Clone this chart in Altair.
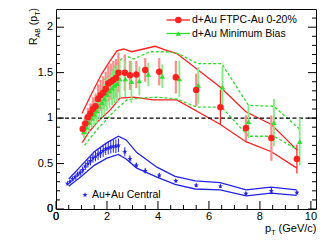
import altair as alt
import pandas as pd

# ---------------- data ----------------
# d+Au FTPC-Au 0-20%
red_pt = [1.05, 1.15, 1.25, 1.35, 1.45, 1.55, 1.65, 1.75, 1.85, 1.95, 2.05, 2.15, 2.25, 2.35, 2.45,
          2.7, 2.9, 3.15, 3.5, 4.05, 4.7, 5.5, 6.45, 7.45, 8.45, 9.45]
red_r = [0.88, 0.94, 1.01, 1.05, 1.10, 1.13, 1.21, 1.25, 1.28, 1.32, 1.38, 1.40, 1.42, 1.44, 1.50,
         1.50, 1.47, 1.48, 1.53, 1.51, 1.45, 1.31, 1.12, 0.89, 0.78, 0.55]
red_sys = [0.07, 0.08, 0.10, 0.11, 0.13, 0.14, 0.16, 0.17, 0.18, 0.19, 0.20, 0.20, 0.21, 0.21, 0.22,
           0.20, 0.16, 0.15, 0.13, 0.15, 0.18, 0.18, 0.0, 0.14, 0.25, 0.0]
red_stat = [0, 0, 0, 0, 0, 0, 0, 0, 0, 0, 0, 0, 0, 0, 0,
            0, 0, 0, 0, 0, 0, 0, 0.19, 0, 0, 0.16]
red_up_pt = [1.02, 1.4, 1.8, 2.1, 2.39, 2.65, 2.97, 3.43, 3.89, 4.28, 4.74, 6.45, 7.45, 8.45, 9.45]
red_up_r = [1.05, 1.27, 1.49, 1.62, 1.74, 1.76, 1.73, 1.76, 1.79, 1.75, 1.71, 1.34, 1.07, 0.93, 0.65]
red_lo_pt = [1.03, 1.3, 1.7, 2.13, 2.5, 3.04, 3.82, 4.74, 6.45, 7.45, 8.45, 9.45]
red_lo_r = [0.73, 0.85, 0.98, 1.09, 1.22, 1.23, 1.20, 1.20, 0.93, 0.74, 0.63, 0.45]

# d+Au Minimum Bias
green_pt = [1.10, 1.20, 1.30, 1.40, 1.50, 1.60, 1.70, 1.80, 1.90, 2.00, 2.10, 2.20, 2.30, 2.40, 2.50,
            2.72, 2.96, 3.27, 3.62, 4.17, 4.84, 5.58, 6.53, 7.55, 8.55, 9.56]
green_r = [0.85, 0.90, 0.95, 1.00, 1.04, 1.08, 1.13, 1.17, 1.21, 1.26, 1.30, 1.33, 1.36, 1.38, 1.43,
           1.43, 1.40, 1.41, 1.48, 1.46, 1.43, 1.36, 1.34, 0.96, 0.95, 0.74]
green_err = [0.07, 0.08, 0.10, 0.11, 0.12, 0.14, 0.15, 0.16, 0.17, 0.18, 0.19, 0.19, 0.20, 0.20, 0.21,
             0.20, 0.23, 0.16, 0.13, 0.13, 0.20, 0.20, 0.23, 0.18, 0.26, 0.26]
green_up_pt = [1.1, 1.5, 1.9, 2.45, 2.71, 3.04, 3.69, 4.3, 4.8, 5.55, 6.5, 7.55, 8.55, 9.55]
green_up_r = [0.98, 1.20, 1.42, 1.62, 1.69, 1.65, 1.73, 1.73, 1.71, 1.60, 1.60, 1.14, 1.13, 0.88]
green_lo_pt = [1.12, 1.6, 2.26, 2.78, 3.3, 3.96, 4.74, 5.52, 6.5, 7.55, 8.55, 9.5]
green_lo_r = [0.70, 0.87, 1.07, 1.20, 1.22, 1.23, 1.21, 1.12, 1.12, 0.80, 0.80, 0.65]

# Au+Au Central
blue_pt = [0.45, 0.55, 0.65, 0.75, 0.85, 0.95, 1.05, 1.15, 1.25, 1.35, 1.45, 1.55, 1.65, 1.75, 1.85,
           1.95, 2.05, 2.15, 2.25, 2.35, 2.45, 2.7, 2.9, 3.15, 3.5, 4.05, 4.7, 5.5, 6.45, 7.45, 8.45, 9.45]
blue_r = [0.28, 0.30, 0.33, 0.35, 0.38, 0.40, 0.43, 0.47, 0.50, 0.53, 0.56, 0.58, 0.60, 0.62, 0.64,
          0.66, 0.67, 0.68, 0.69, 0.69, 0.70, 0.63, 0.55, 0.48, 0.42, 0.37, 0.31, 0.26, 0.25, 0.17, 0.20, 0.18]
blue_err = [0.02, 0.02, 0.025, 0.03, 0.03, 0.035, 0.04, 0.04, 0.045, 0.05, 0.05, 0.055, 0.06, 0.06, 0.065,
            0.065, 0.07, 0.07, 0.07, 0.075, 0.075, 0.05, 0.04, 0.03, 0.03, 0.025, 0.02, 0.02, 0.02, 0.02, 0.03, 0.025]
blue_up_pt = [0.5, 1.0, 1.5, 2.0, 2.45, 2.75, 3.17, 3.96, 4.67, 5.46, 6.44, 7.46, 8.43, 9.44]
blue_up_r = [0.33, 0.48, 0.63, 0.73, 0.80, 0.76, 0.62, 0.46, 0.36, 0.31, 0.29, 0.21, 0.24, 0.21]
blue_lo_pt = [0.5, 1.0, 1.5, 2.0, 2.45, 2.75, 3.17, 3.96, 4.67, 5.46, 6.44, 7.46, 8.43, 9.44]
blue_lo_r = [0.25, 0.36, 0.48, 0.56, 0.60, 0.55, 0.45, 0.35, 0.27, 0.22, 0.21, 0.145, 0.175, 0.15]

ref_line = [1.0]
x_major = [0, 2, 4, 6, 8, 10]
x_labels = ["0", "2", "4", "6", "8", "10"]
x_minor = [0.5, 1, 1.5, 2.5, 3, 3.5, 4.5, 5, 5.5, 6.5, 7, 7.5, 8.5, 9, 9.5]
y_major = [0, 0.5, 1, 1.5, 2]
y_labels = ["0", "0.5", "1", "1.5", "2"]
y_minor = [0.1, 0.2, 0.3, 0.4, 0.6, 0.7, 0.8, 0.9, 1.1, 1.2, 1.3, 1.4, 1.6, 1.7, 1.8, 1.9, 2.1]

leg_red = "d+Au FTPC-Au 0-20%"
leg_green = "d+Au Minimum Bias"
leg_blue = "Au+Au Central"

# ---------------- style ----------------
W, H = 260, 200
FONT = "Liberation Sans"
RED, RED_LIGHT = "#ff2020", "#ff8c8c"
GREEN, GREEN_LIGHT = "#2ee02e", "#80ee80"
BLUE = "#2323e6"
STAR = ("M0,-1L0.235,-0.324L0.951,-0.309L0.38,0.124L0.588,0.809L0,0.4L-0.588,0.809"
        "L-0.38,0.124L-0.951,-0.309L-0.235,-0.324Z")

XS = alt.Scale(domain=[0, 10.2], nice=False, zero=False)
YS = alt.Scale(domain=[0, 2.2], nice=False, zero=False)


def X(f):
    return alt.X(f, type="quantitative", scale=XS, axis=None)


def Y(f):
    return alt.Y(f, type="quantitative", scale=YS, axis=None)


def curve(pt, r):
    return pd.DataFrame({"x": pt, "y": r})


def bars(pt, r, e):
    d = pd.DataFrame({"x": pt, "y": r, "e": e})
    d = d[d["e"] > 0].copy()
    d["lo"] = d["y"] - d["e"]
    d["hi"] = d["y"] + d["e"]
    return d


one = pd.DataFrame({"a": [0]})


def txt(s, x, y, size=10.5, angle=0, baseline="middle", align="left"):
    kw = dict(text=s, align=align, baseline=baseline, font=FONT, fontSize=size, color="black")
    if angle:
        kw["angle"] = angle
    return alt.Chart(one).mark_text(**kw).encode(x=alt.value(x), y=alt.value(y))


layers = []

# tick labels first (so nothing is stacked over them)
layers.append(alt.Chart(pd.DataFrame({"xv": x_major, "t": x_labels})).mark_text(
    align="center", baseline="middle", font=FONT, fontSize=11, color="black").encode(
    x=X("xv"), y=alt.value(H + 8), text="t:N"))
layers.append(alt.Chart(pd.DataFrame({"yv": y_major, "t": y_labels})).mark_text(
    align="right", baseline="middle", font=FONT, fontSize=11, color="black").encode(
    y=Y("yv"), x=alt.value(-3), text="t:N"))
# the two origin labels again as plain texts (the corner labels got lost before)
layers += [txt(x_labels[0], 0, H + 8, size=11, align="center"),
           txt(y_labels[0], -3, H, size=11, align="right")]

# bands
for pt, r, col, dash in [(blue_up_pt, blue_up_r, BLUE, None), (blue_lo_pt, blue_lo_r, BLUE, None),
                         (red_up_pt, red_up_r, RED, None), (red_lo_pt, red_lo_r, RED, None),
                         (green_up_pt, green_up_r, GREEN, [3, 2]), (green_lo_pt, green_lo_r, GREEN, [3, 2])]:
    kw = dict(color=col, strokeWidth=1.3)
    if dash:
        kw["strokeDash"] = dash
    layers.append(alt.Chart(curve(pt, r)).mark_line(**kw).encode(x=X("x"), y=Y("y")))

# reference line
layers.append(alt.Chart(pd.DataFrame({"y": ref_line})).mark_rule(
    color="black", strokeWidth=1.3, strokeDash=[4, 2.5]).encode(y=Y("y")))

# error bars
layers.append(alt.Chart(bars(blue_pt, blue_r, blue_err)).mark_rule(color=BLUE, strokeWidth=1).encode(
    x=X("x"), y=Y("lo"), y2="hi"))
layers.append(alt.Chart(bars(red_pt, red_r, red_sys)).mark_rule(color=RED_LIGHT, strokeWidth=2.2).encode(
    x=X("x"), y=Y("lo"), y2="hi"))
layers.append(alt.Chart(bars(red_pt, red_r, red_stat)).mark_rule(color=RED, strokeWidth=1.2).encode(
    x=X("x"), y=Y("lo"), y2="hi"))
layers.append(alt.Chart(bars(green_pt, green_r, green_err)).mark_rule(color=GREEN_LIGHT, strokeWidth=1.8).encode(
    x=X("x"), y=Y("lo"), y2="hi"))

# points
layers.append(alt.Chart(curve(blue_pt, blue_r)).mark_point(shape=STAR, filled=True, size=30, color=BLUE,
                                                             opacity=1).encode(x=X("x"), y=Y("y")))
layers.append(alt.Chart(curve(green_pt, green_r)).mark_point(shape="triangle-up", filled=True, size=30,
                                                               color=GREEN, opacity=1).encode(x=X("x"), y=Y("y")))
layers.append(alt.Chart(curve(red_pt, red_r)).mark_circle(size=42, color=RED, opacity=1).encode(
    x=X("x"), y=Y("y")))


# ticks (inside the frame)
def yticks(vals, ln):
    d = pd.DataFrame({"y": vals})
    left = alt.Chart(d).mark_rule(color="black", strokeWidth=1).encode(
        y=Y("y"), x=alt.value(0), x2=alt.value(ln))
    right = alt.Chart(d).mark_rule(color="black", strokeWidth=1).encode(
        y=Y("y"), x=alt.value(W), x2=alt.value(W - ln))
    return [left, right]


def xticks(vals, ln):
    d = pd.DataFrame({"x": vals})
    return [alt.Chart(d).mark_rule(color="black", strokeWidth=1).encode(
        x=X("x"), y=alt.value(H), y2=alt.value(H - ln))]


layers += yticks(y_major, 8) + yticks(y_minor, 4) + xticks(x_major, 8) + xticks(x_minor, 4)


def seg(x1, x2, y, col):
    return alt.Chart(one).mark_rule(color=col, strokeWidth=1.3).encode(
        x=alt.value(x1), x2=alt.value(x2), y=alt.value(y))


def sym(x, y, **kw):
    return alt.Chart(one).mark_point(filled=True, opacity=1, **kw).encode(x=alt.value(x), y=alt.value(y))


layers += [
    seg(110.5, 134, 11, RED), sym(122.3, 11, shape="circle", size=42, color=RED), txt(leg_red, 136, 11),
    seg(110.5, 134, 24.5, GREEN), sym(122.3, 24.5, shape="triangle-up", size=30, color=GREEN),
    txt(leg_green, 136, 24.5),
    sym(29, 186, shape=STAR, size=30, color=BLUE), txt(leg_blue, 36, 186),
]

# axis titles with subscripts
layers += [
    txt("p", 209, 223, size=11, baseline="alphabetic"),
    txt("T", 215.2, 226, size=7, baseline="alphabetic"),
    txt("(GeV/c)", 222.6, 223, size=11, baseline="alphabetic"),
]
ybx = -19
layers += [
    txt("R", ybx, 36, size=10.5, angle=270, baseline="alphabetic"),
    txt("AB", ybx + 2.5, 28.4, size=7, angle=270, baseline="alphabetic"),
    txt("(p", ybx, 16.2, size=10.5, angle=270, baseline="alphabetic"),
    txt("T", ybx + 2.5, 6.8, size=7, angle=270, baseline="alphabetic"),
    txt(")", ybx, 2.6, size=10.5, angle=270, baseline="alphabetic"),
]

chart = alt.layer(*layers).properties(
    width=W, height=H,
    padding={"left": 48, "top": 1, "right": 7, "bottom": 28},
    autosize=alt.AutoSizeParams(type="none"),
).configure_view(stroke="black", strokeWidth=1)

chart.save("out.html", embed_options={"renderer": "svg", "actions": False})
